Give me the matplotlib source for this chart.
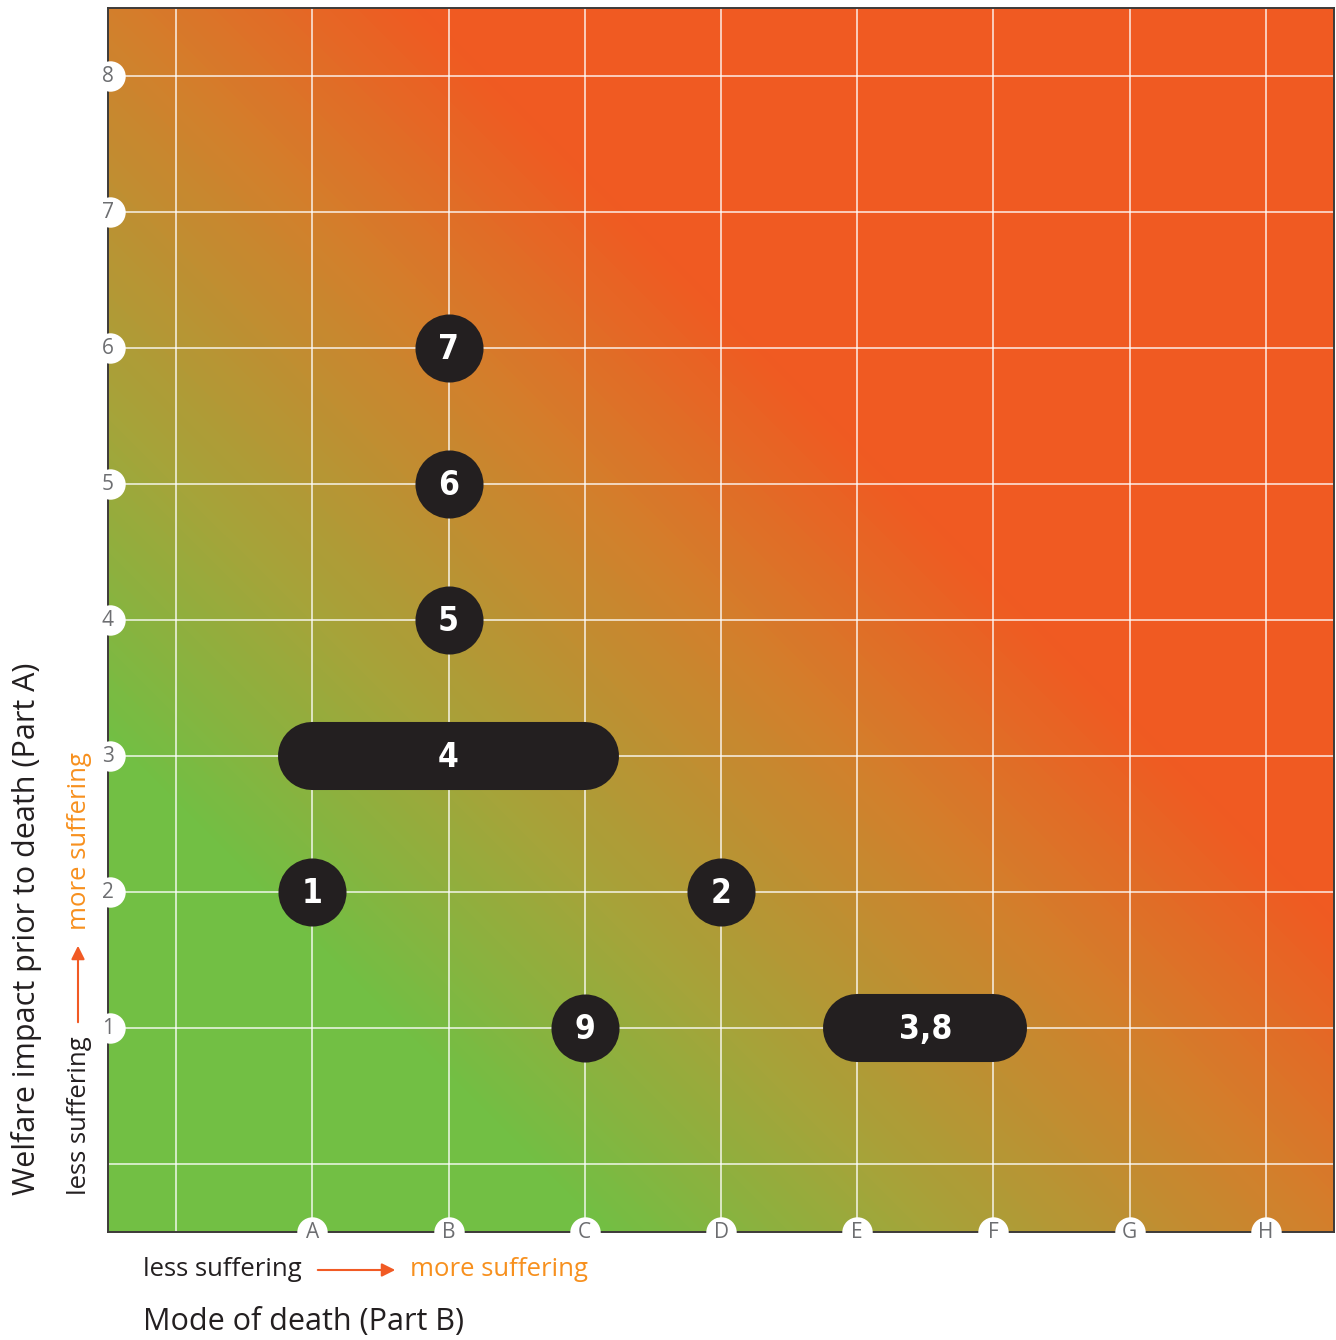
import numpy as np
import matplotlib
matplotlib.use("Agg")
import matplotlib.pyplot as plt
from matplotlib.colors import LinearSegmentedColormap

# --- data ---
x_labels = ["A", "B", "C", "D", "E", "F", "G", "H"]
y_labels = ["1", "2", "3", "4", "5", "6", "7", "8"]

# single points: (label, x category, y score)
point_names = ["1", "2", "9", "5", "6", "7"]
point_x = ["A", "D", "C", "B", "B", "B"]
point_y = [2, 2, 1, 4, 5, 6]

# ranges: (label, from category, to category, y score)
range_names = ["4", "3,8"]
range_from = ["A", "E"]
range_to = ["C", "F"]
range_y = [3, 1]

xpos = {lab: i + 1 for i, lab in enumerate(x_labels)}

W, H = 1336, 1340
fig = plt.figure(figsize=(W / 100, H / 100), dpi=100)
ax = fig.add_axes([108 / W, (H - 1232) / H, 1226 / W, 1224 / H])
ax.set_xlim(-0.5, 8.5)
ax.set_ylim(-0.5, 8.5)

# --- background gradient (diagonal, green -> orange -> red) ---
stops = [(-1.0, "#72bf44"), (2.6, "#72bf44"), (5.0, "#a5a43a"),
         (8.0, "#d37f2c"), (10.3, "#f05a22"), (17.0, "#f05a22")]
lo, hi = stops[0][0], stops[-1][0]
cmap = LinearSegmentedColormap.from_list(
    "suffer", [((s - lo) / (hi - lo), c) for s, c in stops])
gx, gy = np.meshgrid(np.linspace(-0.5, 8.5, 400), np.linspace(-0.5, 8.5, 400))
ax.imshow(gx + gy, cmap=cmap, vmin=lo, vmax=hi, origin="lower",
          extent=(-0.5, 8.5, -0.5, 8.5), aspect="auto", zorder=0,
          interpolation="bilinear")

# grid
for v in range(0, 9):
    ax.axvline(v, color="white", alpha=0.75, lw=1.3, zorder=1)
    ax.axhline(v, color="white", alpha=0.75, lw=1.3, zorder=1)

for sp in ax.spines.values():
    sp.set_color("#3d3a38")
    sp.set_linewidth(1.4)
    sp.set_zorder(5)
ax.set_xticks([])
ax.set_yticks([])

# --- markers ---
dark = "#231f20"
num_font = dict(color="white", fontsize=24, fontweight="bold",
                family="DejaVu Sans", fontstretch="condensed",
                ha="center", va="center", zorder=4)
for name, xl, yv in zip(point_names, point_x, point_y):
    ax.plot(xpos[xl], yv, "o", ms=49, color=dark, mec="none", zorder=3)
    ax.text(xpos[xl], yv - 0.01, name, **num_font)
for name, a, b, yv in zip(range_names, range_from, range_to, range_y):
    ax.plot([xpos[a], xpos[b]], [yv, yv], color=dark, lw=49,
            solid_capstyle="round", zorder=3)
    ax.text((xpos[a] + xpos[b]) / 2, yv - 0.01, name, **num_font)

# --- tick badges ---
tick_font = dict(color="#6d6e71", fontsize=15, family="Open Sans",
                 ha="center", va="center", zorder=7, clip_on=False)
for i, lab in enumerate(x_labels):
    ax.scatter(i + 1, -0.5, s=480, color="white", zorder=6, clip_on=False,
               linewidths=0)
    ax.text(i + 1, -0.505, lab, **tick_font)
for i, lab in enumerate(y_labels):
    ax.scatter(-0.485, i + 1, s=480, color="white", zorder=6, clip_on=False,
               linewidths=0)
    ax.text(-0.5, i + 1, lab, **tick_font)

# --- axis titles and direction hints ---
grey = "#231f20"
orange = "#f7901e"
red = "#f15a24"
lab_font = dict(family="Open Sans", fontsize=18.5)

fig.text(143 / W, 1 - 1270 / H, "less suffering", color=grey, va="center",
         ha="left", **lab_font)
fig.text(410 / W, 1 - 1270 / H, "more suffering", color=orange, va="center",
         ha="left", **lab_font)
fig.add_artist(matplotlib.patches.FancyArrowPatch(
    (315 / W, 1 - 1270 / H), (398 / W, 1 - 1270 / H), transform=fig.transFigure,
    arrowstyle="-|>,head_length=8,head_width=4", color=red, lw=1.5))
fig.text(143 / W, 1 - 1322 / H, "Mode of death (Part B)", color=grey,
         va="center", ha="left", family="Open Sans", fontsize=22)

fig.text(79 / W, 1 - 1195 / H, "less suffering", color=grey, va="bottom",
         ha="center", rotation=90, **lab_font)
fig.text(79 / W, 1 - 930 / H, "more suffering", color=orange, va="bottom",
         ha="center", rotation=90, **lab_font)
fig.add_artist(matplotlib.patches.FancyArrowPatch(
    (78 / W, 1 - 1025 / H), (78 / W, 1 - 943 / H), transform=fig.transFigure,
    arrowstyle="-|>,head_length=8,head_width=4", color=red, lw=1.5))
fig.text(27 / W, 1 - 1195 / H, "Welfare impact prior to death (Part A)",
         color=grey, va="bottom", ha="center", rotation=90,
         family="Open Sans", fontsize=22)

fig.savefig("out.png", dpi=100)
